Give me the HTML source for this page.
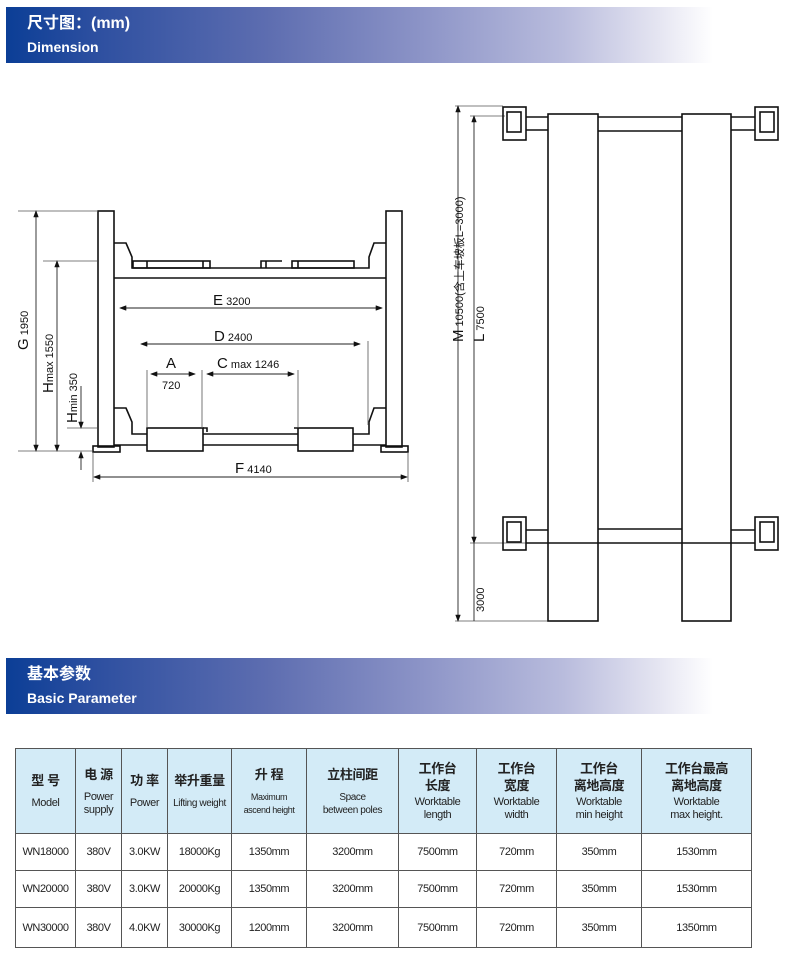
<!DOCTYPE html>
<html><head><meta charset="utf-8"><style>
body{margin:0;background:#fff;width:800px;height:977px;position:relative;overflow:hidden;font-family:"Liberation Sans","Noto Sans CJK SC",sans-serif}
.band{position:absolute;left:6px;width:744px;height:56px;background:linear-gradient(90deg,#0b3e96 0%,#2d4fa0 12%,#5d6db0 35%,#8a92c6 55%,#b9bcdd 75%,#e6e6f2 88%,#fff 95%)}
.band .t1{position:absolute;left:21px;top:8px;color:#fff;font-weight:bold;font-size:16px;line-height:18px;font-family:"Liberation Sans","Noto Sans CJK SC",sans-serif}
.band .t2{position:absolute;left:21px;top:32px;color:#fff;font-weight:bold;font-size:14px;line-height:16px}
table{position:absolute;left:15px;top:748px;border-collapse:collapse;font-size:11px;color:#222}
td{border:1px solid #555;text-align:center;padding:0;letter-spacing:-0.4px}
tr.h td{background:#d3ebf7;height:84px;vertical-align:middle}
tr.h b{font-size:13px;display:block;line-height:17px}
tr.h span{display:block;line-height:13px;margin-top:8px}
tr.r td{height:36px}
</style></head><body>
<div class="band" style="top:7px"><div class="t1">尺寸图：(mm)</div><div class="t2">Dimension</div></div>
<div class="band" style="top:658px"><div class="t1">基本参数</div><div class="t2">Basic Parameter</div></div>

<svg width="800" height="977" style="position:absolute;left:0;top:0" xmlns="http://www.w3.org/2000/svg">
<defs><marker id="ar" markerWidth="8" markerHeight="6" refX="7" refY="3" orient="auto"><path d="M0,0L8,3L0,6z" fill="#111"/></marker></defs>
<g fill="none" stroke="#111" stroke-width="1.6">
<rect x="98" y="211" width="16" height="236"/>
<rect x="386" y="211" width="16" height="236"/>
<rect x="93" y="446" width="27" height="6"/>
<rect x="381" y="446" width="27" height="6"/>
<path d="M114 243H126L132 257V268H369V257L374 243H386"/>
<path d="M114 278H386"/>
<rect x="133" y="261" width="77" height="7"/><path d="M147 261V268M203 261V268"/>
<path d="M261 268V261H282M266 261V268"/>
<rect x="292" y="261" width="62" height="7"/><path d="M298 261V268"/>
<path d="M114 408H126L132 422V434H147M203 434H298M353 434H369V422L374 408H386"/>
<path d="M114 445H147M203 445H298M353 445H386"/>
<rect x="147" y="428" width="56" height="23"/>
<rect x="298" y="428" width="55" height="23"/>
<path d="M203 428H207V432M294 428H298"/>
</g>
<g stroke="#555" stroke-width="0.8" fill="none">
<path d="M18 211H98M18 451H93M43 261H97M67 428H97"/>
<path d="M147 370V428M202 370V428M298 370V428M368 341V425M93 452V482M408 452V482"/>
<path d="M455 106H503M470 116H505M470 543H548M455 621H548"/>
</g>
<g stroke="#222" stroke-width="0.9" fill="none" marker-end="url(#ar)">
<path d="M36 330V211"/><path d="M36 330V451"/>
<path d="M57 360V261"/><path d="M57 360V451"/>
<path d="M81 386V428"/><path d="M81 470V452"/>
<path d="M250 308H120"/><path d="M250 308H382"/>
<path d="M250 344H141"/><path d="M250 344H360"/>
<path d="M173 374H151"/><path d="M173 374H195"/>
<path d="M250 374H207"/><path d="M250 374H294"/>
<path d="M250 477H94"/><path d="M250 477H407"/>
<path d="M458 360V106"/><path d="M458 360V621"/>
<path d="M474 330V116"/><path d="M474 330V543"/>
</g>
<path d="M474 543V621" stroke="#222" stroke-width="0.9"/>
<g font-size="11" fill="#111">
<text x="213" y="305"><tspan font-size="15">E</tspan> 3200</text>
<text x="214" y="341"><tspan font-size="15">D</tspan> 2400</text>
<text x="166" y="368" font-size="15">A</text>
<text x="162" y="389">720</text>
<text x="217" y="368"><tspan font-size="15">C</tspan> max 1246</text>
<text x="235" y="473"><tspan font-size="15">F</tspan> 4140</text>
<text transform="translate(28,350) rotate(-90)"><tspan font-size="15">G</tspan> 1950</text>
<text transform="translate(53,393) rotate(-90)"><tspan font-size="15">H</tspan>max 1550</text>
<text transform="translate(77,423) rotate(-90)"><tspan font-size="15">H</tspan>min  350</text>
<text transform="translate(463,342) rotate(-90)"><tspan font-size="15">M</tspan> 10500(含上车坡板L=3000)</text>
<text transform="translate(484,342) rotate(-90)"><tspan font-size="15">L</tspan> 7500</text>
<text transform="translate(484,612) rotate(-90)">3000</text>
</g>
<g fill="none" stroke="#111" stroke-width="1.6">
<rect x="548" y="114" width="50" height="507"/><path d="M548 543H598"/>
<rect x="682" y="114" width="49" height="507"/><path d="M682 543H731"/>
<path d="M526 117H548M526 130H548M598 117H682M598 131H682M731 117H755M731 130H755"/>
<path d="M526 530H548M526 543H548M598 529H682M598 543H682M731 530H755M731 543H755"/>
<rect x="503" y="107" width="23" height="33"/><rect x="507" y="112" width="14" height="20"/>
<rect x="755" y="107" width="23" height="33"/><rect x="760" y="112" width="14" height="20"/>
<rect x="503" y="517" width="23" height="33"/><rect x="507" y="522" width="14" height="20"/>
<rect x="755" y="517" width="23" height="33"/><rect x="760" y="522" width="14" height="20"/>
</g>
</svg>

<table>
<tr class="h">
<td style="width:59px"><b>型 号</b><span>Model</span></td>
<td style="width:45px"><b>电 源</b><span>Power<br>supply</span></td>
<td style="width:45px"><b>功 率</b><span>Power</span></td>
<td style="width:63px"><b>举升重量</b><span style="font-size:10px">Lifting weight</span></td>
<td style="width:74px"><b>升 程</b><span style="font-size:9px">Maximum<br>ascend height</span></td>
<td style="width:91px"><b>立柱间距</b><span style="font-size:10px">Space<br>between poles</span></td>
<td style="width:77px"><b>工作台<br>长度</b><span style="margin-top:2px">Worktable<br>length</span></td>
<td style="width:79px"><b>工作台<br>宽度</b><span style="margin-top:2px">Worktable<br>width</span></td>
<td style="width:84px"><b>工作台<br>离地高度</b><span style="margin-top:2px">Worktable<br>min height</span></td>
<td style="width:109px"><b>工作台最高<br>离地高度</b><span style="margin-top:2px">Worktable<br>max height.</span></td>
</tr>
<tr class="r"><td>WN18000</td><td>380V</td><td>3.0KW</td><td>18000Kg</td><td>1350mm</td><td>3200mm</td><td>7500mm</td><td>720mm</td><td>350mm</td><td>1530mm</td></tr>
<tr class="r"><td>WN20000</td><td>380V</td><td>3.0KW</td><td>20000Kg</td><td>1350mm</td><td>3200mm</td><td>7500mm</td><td>720mm</td><td>350mm</td><td>1530mm</td></tr>
<tr class="r" style="height:40px"><td>WN30000</td><td>380V</td><td>4.0KW</td><td>30000Kg</td><td>1200mm</td><td>3200mm</td><td>7500mm</td><td>720mm</td><td>350mm</td><td>1350mm</td></tr>
</table>
</body></html>
